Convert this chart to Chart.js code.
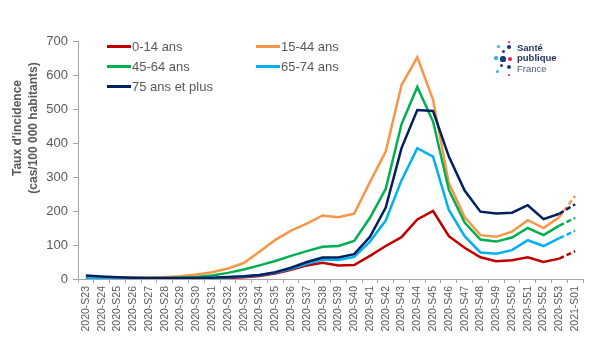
<!DOCTYPE html>
<html lang="fr">
<head>
<meta charset="utf-8">
<script src="https://cdn.jsdelivr.net/npm/chart.js@4/dist/chart.umd.min.js"></script>
<style>
  body { margin: 0; background: #fff; font-family: 'Liberation Sans', Arial, sans-serif; }
  #wrap { position: relative; width: 600px; height: 352px; }
  #legend .item { position: absolute; font-size: 13px; color: #595959; line-height: 16px; white-space: nowrap; }
  #legend .swatch { display: inline-block; width: 24px; height: 3px; vertical-align: middle; margin-right: 1px; position: relative; top: -1px; }
  #ytitle { position: absolute; left: -75px; top: 112px; width: 200px; height: 32px; transform: rotate(-90deg);
            text-align: center; font-size: 12px; font-weight: bold; line-height: 16px; color: #595959; }
  .dot { position: absolute; border-radius: 50%; }
  .logo-txt { position: absolute; left: 517px; font-size: 9.5px; color: #1f2f5c; line-height: 10px; }
</style>
</head>
<body>
<div id="wrap">
  <canvas id="chart" width="600" height="352"></canvas>
  <div id="ytitle">Taux d'incidence<br>(cas/100 000 habitants)</div>
  <div id="legend"></div>
  <div id="logo"></div>
</div>
<script>
// weeks
const weeks = [
    '2020-S23','2020-S24','2020-S25','2020-S26','2020-S27','2020-S28','2020-S29','2020-S30',
    '2020-S31','2020-S32','2020-S33','2020-S34','2020-S35','2020-S36','2020-S37','2020-S38',
    '2020-S39','2020-S40','2020-S41','2020-S42','2020-S43','2020-S44','2020-S45','2020-S46',
    '2020-S47','2020-S48','2020-S49','2020-S50','2020-S51','2020-S52','2020-S53','2021-S01'
];

// incidence per 100 000, by age group
const age0_14  = [3, 2, 1, 1, 1, 1, 1, 1, 2, 3, 5, 9, 16, 27, 40, 48, 40, 41, 68, 97, 123, 175, 200, 126, 92, 64, 52, 55, 64, 50, 60, 82];
const age15_44 = [8, 5, 4, 4, 4, 5, 8, 13, 20, 31, 47, 80, 115, 142, 163, 187, 182, 192, 285, 375, 570, 652, 527, 282, 182, 129, 124, 139, 173, 150, 182, 244];
const age45_64 = [5, 4, 3, 3, 3, 3, 4, 6, 10, 18, 28, 40, 53, 68, 82, 95, 97, 112, 180, 265, 455, 565, 463, 262, 166, 116, 110, 122, 150, 129, 157, 180];
const age65_74 = [3, 2, 1, 1, 1, 1, 1, 2, 3, 5, 7, 11, 18, 30, 45, 57, 56, 65, 110, 172, 290, 385, 360, 203, 126, 78, 74, 85, 114, 97, 120, 142];
const age75p   = [10, 7, 5, 4, 3, 3, 3, 3, 4, 6, 8, 12, 20, 33, 50, 63, 63, 73, 124, 210, 385, 497, 494, 360, 260, 198, 193, 195, 217, 176, 192, 220];

const seriesNames = ['0-14 ans', '15-44 ans', '45-64 ans', '65-74 ans', '75 ans et plus'];
const seriesData = [age0_14, age15_44, age45_64, age65_74, age75p];
const seriesColors = ['#c00000', '#f79646', '#00b050', '#00b0f0', '#002060'];
const drawOrder = [4, 3, 2, 1, 0];

Chart.defaults.font.family = "'Liberation Sans', Arial, sans-serif";

const lastIdx = weeks.length - 1;
const datasets = seriesNames.map((name, i) => ({
    label: name,
    data: seriesData[i],
    borderColor: seriesColors[i],
    backgroundColor: seriesColors[i],
    borderWidth: 2.5,
    pointRadius: 0,
    tension: 0,
    order: drawOrder[i],
    // last week is provisional -> dashed
    segment: {
        borderDash: ctx => ctx.p1DataIndex === lastIdx ? [5, 3] : undefined
    }
}));

const axisGrey = '#a6a6a6';
const textGrey = '#595959';

new Chart(document.getElementById('chart'), {
    type: 'line',
    data: { labels: weeks, datasets: datasets },
    options: {
        responsive: false,
        animation: false,
        layout: { padding: { top: 41, right: 17, left: 0, bottom: 0 } },
        plugins: { legend: { display: false }, tooltip: { enabled: false } },
        scales: {
            x: {
                offset: true,
                ticks: { autoSkip: false, maxRotation: 90, minRotation: 90, color: textGrey, font: { size: 10.5 }, padding: 3 },
                grid: { offset: true, drawOnChartArea: false, tickLength: 4, color: axisGrey },
                border: { color: axisGrey },
                afterFit: s => { s.height = 73; }
            },
            y: {
                min: 0,
                max: 700,
                ticks: { stepSize: 100, color: textGrey, font: { size: 13 }, padding: 5 },
                grid: { drawOnChartArea: false, tickLength: 5, color: axisGrey },
                border: { color: axisGrey },
                afterFit: s => { s.width = 78; }
            }
        }
    }
});

// legend (two columns, inside the plot)
const legendPos = [[107, 39], [256, 39], [107, 59], [256, 59], [107, 79]];
const legend = document.getElementById('legend');
seriesNames.forEach((name, i) => {
    const el = document.createElement('div');
    el.className = 'item';
    el.style.left = legendPos[i][0] + 'px';
    el.style.top = legendPos[i][1] + 'px';
    el.innerHTML = `<span class="swatch" style="background:${seriesColors[i]}"></span>${name}`;
    legend.appendChild(el);
});

// Santé publique France logo
const logo = document.getElementById('logo');
const dots = [
    [498, 46, 1.5, '#29b6e8'], [509, 42, 1, '#e5195a'], [509, 47, 1.7, '#1f3c88'],
    [503, 51, 1.5, '#1f3c88'], [496, 58, 1.6, '#29b6e8'], [503, 59, 2.6, '#1f3c88'],
    [510, 59, 2.4, '#e5195a'], [501, 65, 1.5, '#1f3c88'], [509, 67, 2, '#1f3c88'],
    [497, 71, 1.5, '#29b6e8'], [509, 75, 1, '#e5195a']
];
dots.forEach(d => {
    const s = document.createElement('div');
    s.className = 'dot';
    s.style.left = (d[0] - d[2]) + 'px';
    s.style.top = (d[1] - d[2]) + 'px';
    s.style.width = s.style.height = (d[2] * 2) + 'px';
    s.style.background = d[3];
    logo.appendChild(s);
});
[['Santé', 43, 'bold'], ['publique', 53, 'bold'], ['France', 64, 'normal']].forEach(t => {
    const s = document.createElement('div');
    s.className = 'logo-txt';
    s.style.top = t[1] + 'px';
    s.style.fontWeight = t[2];
    if (t[2] === 'normal') s.style.color = '#4a5a80';
    s.textContent = t[0];
    logo.appendChild(s);
});
</script>
</body>
</html>
